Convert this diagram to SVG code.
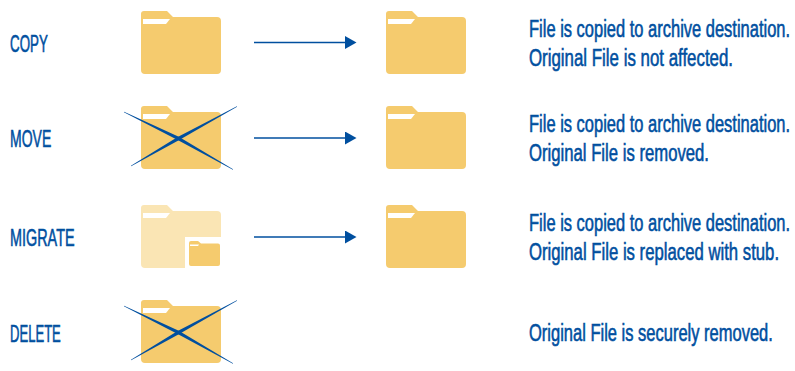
<svg xmlns="http://www.w3.org/2000/svg" width="795" height="371" viewBox="0 0 795 371">
<style>
.f{fill:#f5cb6e}
.w{fill:#fff}
.t{font-family:"Liberation Sans",Arial,sans-serif;font-size:24px;fill:#004f9f;stroke:#004f9f;stroke-width:.6px}
.a{stroke:#004f9f;stroke-width:1.4;fill:none;marker-end:url(#h)}
.x{fill:#004f9f}
</style>
<defs>
<marker id="h" markerUnits="userSpaceOnUse" markerWidth="12" markerHeight="13" refX="0" refY="6.5" orient="auto"><path d="M0 0L11.500 6.500L0 13Z" fill="#004f9f"/></marker>
<g id="folder">
<path class="f" d="M144 11H167L173 17H217Q221 17 221 21V70Q221 74 217 74H145Q141 74 141 70V14Q141 11 144 11Z"/>
<path class="w" d="M143 19H170L166 24H143Z"/>
</g>
<g id="cross">
<path class="x" d="M124.100 111.800L178.800 136.700L233.100 169.300L232.900 169.700L177.200 139.700L123.900 112.200Z"/>
<path class="x" d="M236.900 106.300L177.200 137.300L130.900 165.800L131.100 166.200L178.800 140.300L237.100 106.700Z"/>
</g>
</defs>
<g id="connectors">
<line class="a" x1="254" y1="42.500" x2="345" y2="42.500"/>
<line class="a" x1="254" y1="138" x2="345" y2="138"/>
<line class="a" x1="254" y1="237" x2="345" y2="237"/>
</g>
<g id="copy">
<text class="t" transform="translate(10 52) scale(.687 1)" textLength="55" lengthAdjust="spacingAndGlyphs">COPY</text>
<use href="#folder"/>
<use href="#folder" x="245"/>
<text class="t" transform="translate(529 36.500) scale(.687 1)" textLength="380" lengthAdjust="spacingAndGlyphs">File is copied to archive destination.</text>
<text class="t" transform="translate(529 65.500) scale(.687 1)" textLength="297" lengthAdjust="spacingAndGlyphs">Original File is not affected.</text>
</g>
<g id="move">
<text class="t" transform="translate(10 147) scale(.687 1)" textLength="60" lengthAdjust="spacingAndGlyphs">MOVE</text>
<use href="#folder" y="95"/>
<use href="#cross"/>
<use href="#folder" x="245" y="95"/>
<text class="t" transform="translate(529 132) scale(.687 1)" textLength="380" lengthAdjust="spacingAndGlyphs">File is copied to archive destination.</text>
<text class="t" transform="translate(529 160.500) scale(.687 1)" textLength="262" lengthAdjust="spacingAndGlyphs">Original File is removed.</text>
</g>
<g id="migrate">
<text class="t" transform="translate(10 246) scale(.687 1)" textLength="94" lengthAdjust="spacingAndGlyphs">MIGRATE</text>
<path fill="#fae5b4" d="M144 205H167L173 211H217Q221 211 221 215V237H185V268H145Q141 268 141 264V208Q141 205 144 205Z"/>
<path class="w" d="M143 213H170L166 218H143Z"/>
<path class="f" d="M191 241H198L201 243.500H218Q220 243.500 220 245.500V264Q220 266 218 266H191Q189 266 189 264V243Q189 241 191 241Z"/>
<path class="w" d="M190 244.500H199L198 246H190Z"/>
<use href="#folder" x="245" y="194"/>
<text class="t" transform="translate(529 231) scale(.687 1)" textLength="380" lengthAdjust="spacingAndGlyphs">File is copied to archive destination.</text>
<text class="t" transform="translate(529 260) scale(.687 1)" textLength="364" lengthAdjust="spacingAndGlyphs">Original File is replaced with stub.</text>
</g>
<g id="delete">
<text class="t" transform="translate(10 342) scale(.687 1)" textLength="74" lengthAdjust="spacingAndGlyphs">DELETE</text>
<use href="#folder" y="289"/>
<use href="#cross" y="194"/>
<text class="t" transform="translate(529 340.500) scale(.687 1)" textLength="355" lengthAdjust="spacingAndGlyphs">Original File is securely removed.</text>
</g>
</svg>
